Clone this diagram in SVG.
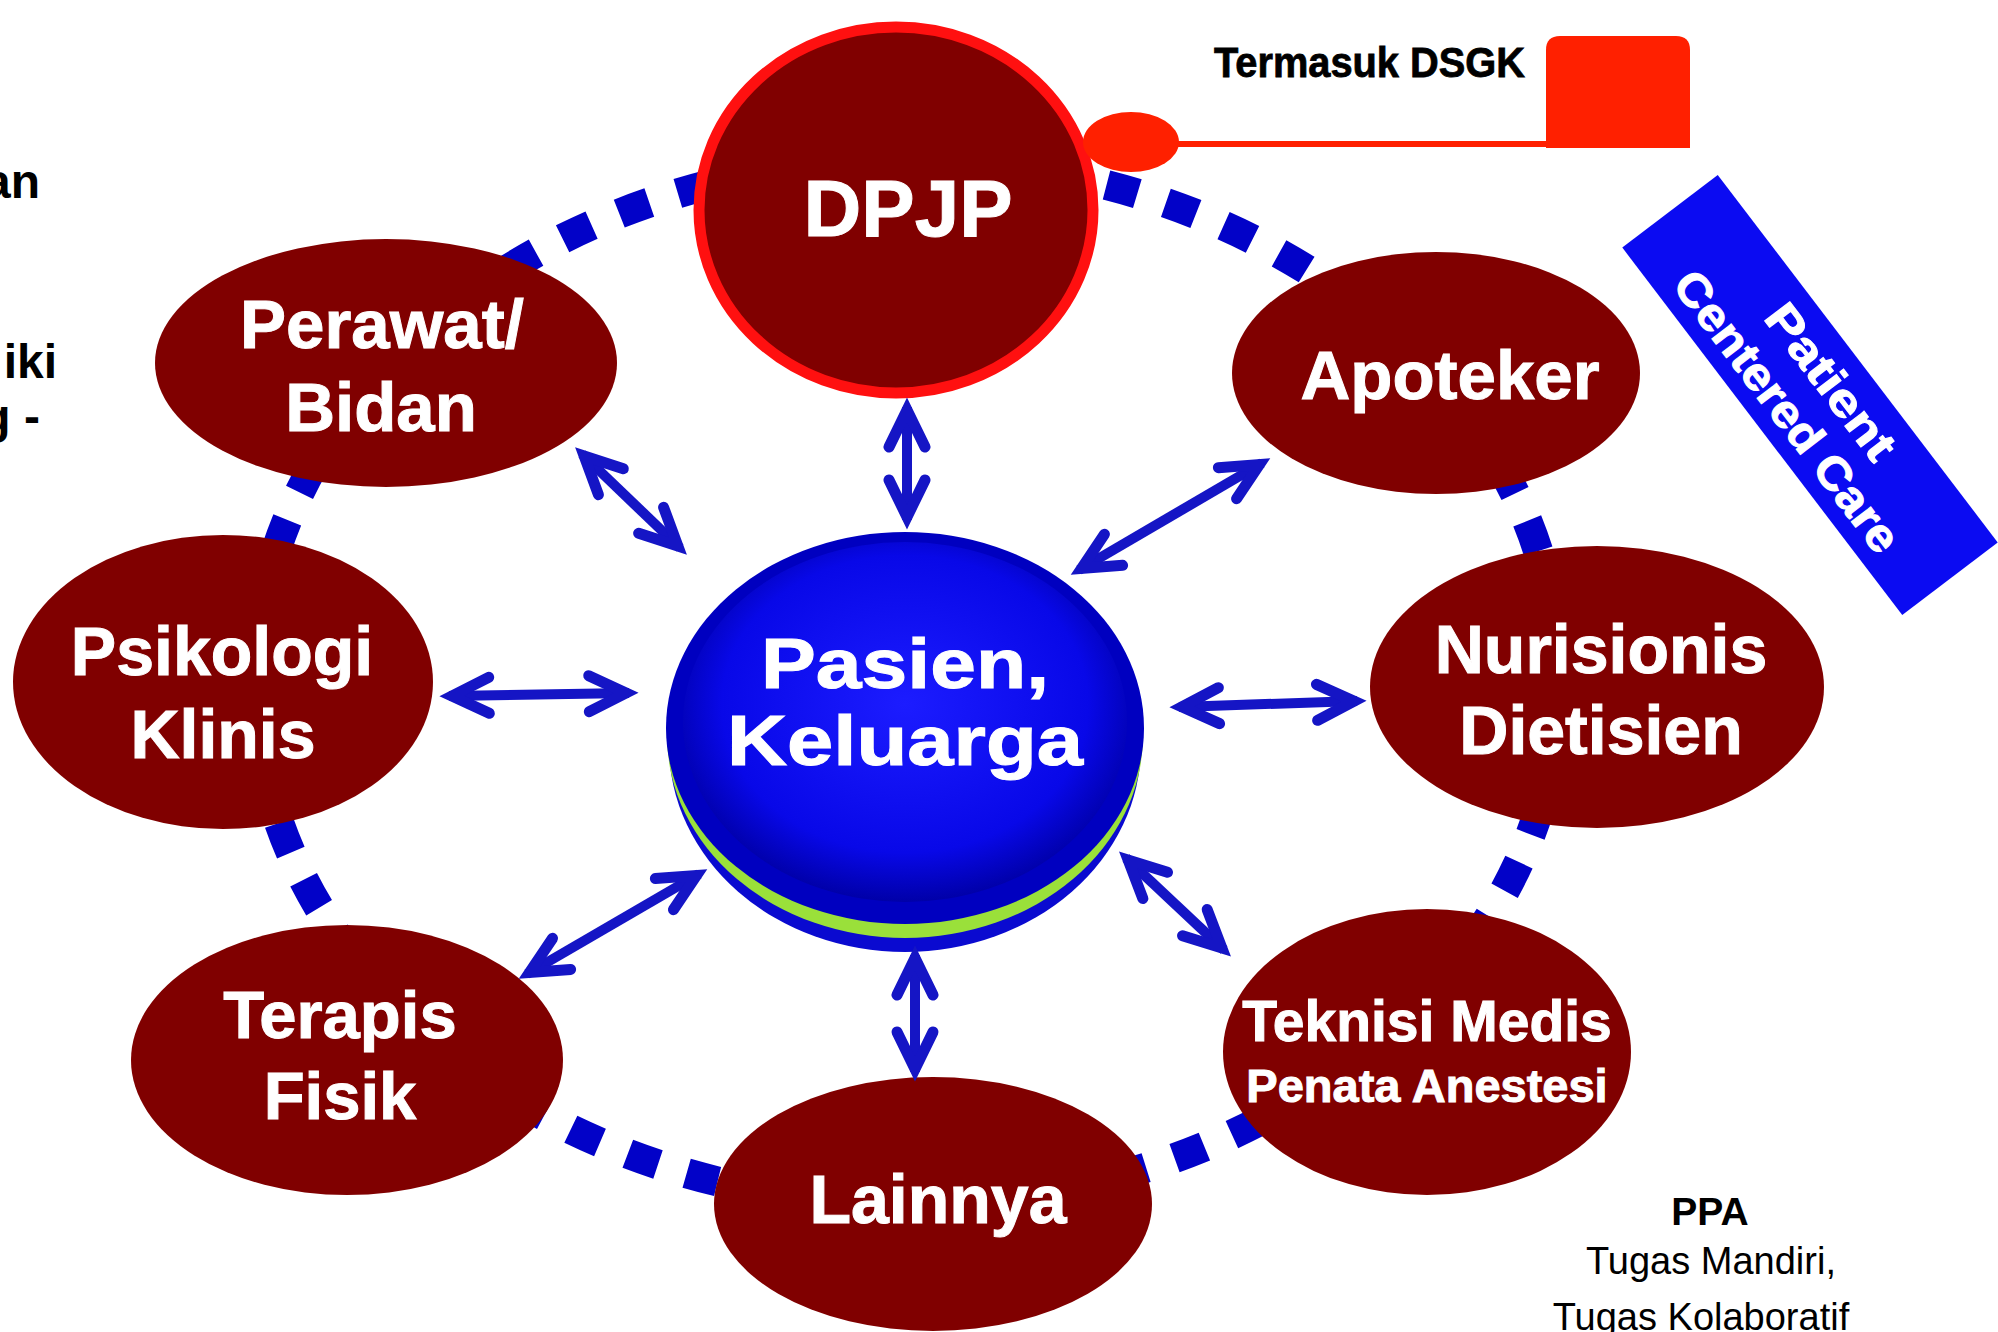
<svg xmlns="http://www.w3.org/2000/svg" width="1998" height="1332" viewBox="0 0 1998 1332">
<defs>
<style>
.node{fill:#800000}
.nt{font-family:"Liberation Sans",Arial,sans-serif;font-weight:bold;fill:#ffffff;stroke:#ffffff;stroke-width:1;text-anchor:middle}
.blk{font-family:"Liberation Sans",Arial,sans-serif;font-weight:bold;fill:#000000}
.conn{stroke:#1515c5;stroke-width:10;fill:none;stroke-linecap:butt;marker-start:url(#ah);marker-end:url(#ah)}
</style>
<marker id="ah" viewBox="-52 -30 64 60" refX="0" refY="0" markerWidth="64" markerHeight="60" markerUnits="userSpaceOnUse" orient="auto-start-reverse">
<path d="M-40,-18 L-3,0 L-40,18" fill="none" stroke="#1515c5" stroke-width="11" stroke-linecap="round" stroke-linejoin="miter" stroke-miterlimit="6"/>
</marker>
<radialGradient id="face" cx="50%" cy="45%" r="55%">
<stop offset="0" stop-color="#1c1cff"/>
<stop offset="0.75" stop-color="#0808e8"/>
<stop offset="1" stop-color="#0000a8"/>
</radialGradient>
</defs>
<rect width="1998" height="1332" fill="#ffffff"/>

<!-- left partial texts -->
<g id="left-text">
<text class="blk" x="40" y="198" font-size="48" text-anchor="end">an</text>
<text class="blk" x="57" y="378" font-size="48" text-anchor="end">iki</text>
<text class="blk" x="40" y="433" font-size="48" text-anchor="end">g -</text>
</g>

<!-- dotted ring -->
<g id="ring">
<ellipse cx="907" cy="682" rx="652" ry="522" fill="none" stroke="#0202c8" stroke-width="30" stroke-dasharray="32 30"/>
</g>

<!-- callout -->
<g id="callout">
<path d="M1546,148 V50 Q1546,36 1560,36 H1676 Q1690,36 1690,50 V148 Z" fill="#ff2000"/>
<line x1="1160" y1="144" x2="1550" y2="144" stroke="#ff2000" stroke-width="6"/>
<text class="blk" x="1214" y="77" font-size="42" stroke="#000000" stroke-width="0.8" textLength="311" lengthAdjust="spacingAndGlyphs">Termasuk DSGK</text>
</g>

<g id="node-dpjp">
<ellipse cx="896" cy="210" rx="197" ry="183" fill="#800000" stroke="#ff1010" stroke-width="11"/>
<text class="nt" x="908" y="236" font-size="80">DPJP</text>
</g>
<g id="callout-dot">
<ellipse cx="1131" cy="142" rx="48" ry="30" fill="#ff2000"/>
</g>

<g id="node-perawat">
<ellipse class="node" cx="386" cy="363" rx="231" ry="124"/>
<text class="nt" x="382" y="348" font-size="69">Perawat/</text>
<text class="nt" x="381" y="431" font-size="69">Bidan</text>
</g>
<g id="node-apoteker">
<ellipse class="node" cx="1436" cy="373" rx="204" ry="121"/>
<text class="nt" x="1450" y="399" font-size="69">Apoteker</text>
</g>
<g id="node-psikologi">
<ellipse class="node" cx="223" cy="682" rx="210" ry="147"/>
<text class="nt" x="222" y="675" font-size="68">Psikologi</text>
<text class="nt" x="223" y="758" font-size="68">Klinis</text>
</g>
<g id="node-nurisionis">
<ellipse class="node" cx="1597" cy="687" rx="227" ry="141"/>
<text class="nt" x="1601" y="673" font-size="68">Nurisionis</text>
<text class="nt" x="1601" y="754" font-size="68">Dietisien</text>
</g>
<g id="node-terapis">
<ellipse class="node" cx="347" cy="1060" rx="216" ry="135"/>
<text class="nt" x="340" y="1038" font-size="67">Terapis</text>
<text class="nt" x="340" y="1119" font-size="67">Fisik</text>
</g>
<g id="node-teknisi">
<ellipse class="node" cx="1427" cy="1052" rx="204" ry="143"/>
<text class="nt" x="1427" y="1041" font-size="57">Teknisi Medis</text>
<text class="nt" x="1427" y="1102" font-size="47">Penata Anestesi</text>
</g>
<g id="node-lainnya">
<ellipse class="node" cx="933" cy="1204" rx="219" ry="127"/>
<text class="nt" x="938" y="1223" font-size="68">Lainnya</text>
</g>

<!-- center -->
<g id="node-pasien">
<ellipse cx="905" cy="746" rx="236" ry="206" fill="#0a0ad0"/>
<ellipse cx="905" cy="736" rx="238" ry="202" fill="#9ae03a"/>
<ellipse cx="905" cy="728" rx="239" ry="196" fill="#0000c0"/>
<ellipse cx="905" cy="722" rx="222" ry="180" fill="url(#face)"/>
<text class="nt" x="905" y="688" font-size="70" stroke-width="2.5" textLength="288" lengthAdjust="spacingAndGlyphs">Pasien,</text>
<text class="nt" x="905" y="765" font-size="70" stroke-width="2.5" textLength="356" lengthAdjust="spacingAndGlyphs">Keluarga</text>
</g>

<!-- connectors -->
<g id="connectors">
<line class="conn" x1="907" y1="407" x2="907" y2="520"/>
<line class="conn" x1="582" y1="454" x2="680" y2="548"/>
<line class="conn" x1="1262" y1="463" x2="1079" y2="570"/>
<line class="conn" x1="449" y1="696" x2="629" y2="693"/>
<line class="conn" x1="1179" y1="707" x2="1357" y2="701"/>
<line class="conn" x1="527" y1="974" x2="699" y2="874"/>
<line class="conn" x1="1126" y1="858" x2="1224" y2="950"/>
<line class="conn" x1="915" y1="955" x2="915" y2="1072"/>
</g>

<!-- banner -->
<g id="banner" transform="translate(1810,395) rotate(52.7)">
<rect x="-231" y="-60" width="462" height="120" fill="#0b0bf2"/>
<text class="nt" x="2" y="-9" font-size="46" stroke-width="1.5" textLength="184" lengthAdjust="spacingAndGlyphs">Patient</text>
<text class="nt" x="-1" y="44" font-size="46" stroke-width="1.5" textLength="341" lengthAdjust="spacingAndGlyphs">Centered Care</text>
</g>

<!-- PPA note -->
<g id="ppa-note" font-family="'Liberation Sans',Arial,sans-serif" text-anchor="middle" fill="#000000">
<text x="1710" y="1225" font-size="39" font-weight="bold">PPA</text>
<text x="1711" y="1274" font-size="38">Tugas Mandiri,</text>
<text x="1701" y="1330" font-size="38">Tugas Kolaboratif</text>
</g>
</svg>
